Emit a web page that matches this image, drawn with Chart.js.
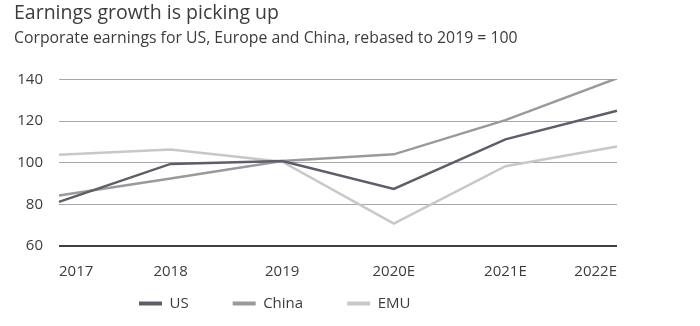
<!DOCTYPE html>
<html>
<head>
<meta charset="utf-8">
<script src="https://cdn.jsdelivr.net/npm/chart.js@4"></script>
<style>
html,body{margin:0;padding:0;background:#fff;}
canvas{display:block;}
</style>
</head>
<body>
<canvas id="c" width="700" height="326"></canvas>
<script>
const categories = ["2017", "2018", "2019", "2020E", "2021E", "2022E"];
const usValues = [81.2, 99.4, 100.8, 87.4, 111.2, 124.9];
const chinaValues = [84.2, 92.4, 100.8, 104.0, 120.4, 140.5];
const emuValues = [103.8, 106.3, 100.5, 70.8, 98.3, 107.8];
const yTicks = [60, 80, 100, 120, 140];

const textColor = '#3c3c3c';
const fontFamily = '"Open Sans", "Noto Sans", sans-serif';

const legendShift = {
  id: 'legendShift',
  afterLayout(chart) {
    if (chart.legend) { chart.legend.left = 95; chart.legend.top = 252; }
  }
};

new Chart(document.getElementById('c'), {
  type: 'line',
  data: {
    labels: categories,
    datasets: [
      { label: 'US', data: usValues, borderColor: '#5e5e68', backgroundColor: '#5e5e68', borderWidth: 2.5 },
      { label: 'China', data: chinaValues, borderColor: '#9a9a9a', backgroundColor: '#9a9a9a', borderWidth: 2.5 },
      { label: 'EMU', data: emuValues, borderColor: '#c8c8c8', backgroundColor: '#c8c8c8', borderWidth: 2.5 }
    ]
  },
  options: {
    responsive: false,
    animation: false,
    elements: { point: { radius: 0, hoverRadius: 0 }, line: { tension: 0 } },
    layout: { padding: { left: 14, right: 83, top: 2, bottom: 4 } },
    plugins: {
      title: {
        display: true, text: 'Earnings growth is picking up', align: 'start',
        color: textColor, font: { family: fontFamily, size: 19.5, weight: 'normal' },
        padding: { top: 0, bottom: 4 }
      },
      subtitle: {
        display: true, text: 'Corporate earnings for US, Europe and China, rebased to 2019 = 100', align: 'start',
        color: textColor, font: { family: fontFamily, size: 15.8, weight: 'normal' },
        padding: { top: 0, bottom: 31 }
      },
      legend: {
        position: 'bottom', align: 'start', maxHeight: 32,
        labels: {
          color: textColor, font: { family: fontFamily, size: 15 },
          boxWidth: 23, boxHeight: 4, padding: 44,
          generateLabels(chart) {
            return Chart.defaults.plugins.legend.labels.generateLabels(chart).map(l => Object.assign(l, { lineWidth: 0 }));
          }
        }
      },
      tooltip: { enabled: false }
    },
    scales: {
      x: {
        offset: false,
        grid: { display: false },
        border: { display: false },
        ticks: { color: textColor, font: { family: fontFamily, size: 15 }, align: 'inner', padding: 9, maxRotation: 0 },
        afterFit(scale) { scale.paddingLeft = 0; scale.paddingRight = 0; }
      },
      y: {
        min: 60, max: 140,
        afterBuildTicks(axis) { axis.ticks = yTicks.map(v => ({ value: v })); },
        afterFit(scale) { scale.width = 45; },
        grid: {
          drawTicks: false,
          color: ctx => ctx.tick && ctx.tick.value === 60 ? '#404040' : '#a8a8a8',
          lineWidth: ctx => ctx.tick && ctx.tick.value === 60 ? 2 : 1
        },
        border: { display: false },
        ticks: { color: textColor, font: { family: fontFamily, size: 15 }, padding: 16 }
      }
    }
  },
  plugins: [legendShift]
});
</script>
</body>
</html>
